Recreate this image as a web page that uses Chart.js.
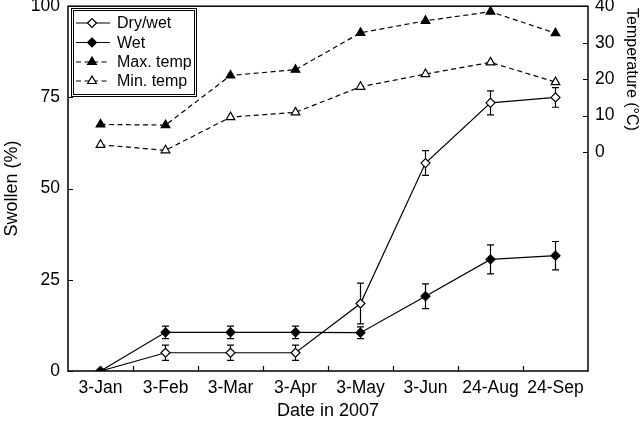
<!DOCTYPE html>
<html><head><meta charset="utf-8">
<script src="https://cdn.jsdelivr.net/npm/chart.js@4.4.1/dist/chart.umd.min.js"></script>
<style>html,body{margin:0;padding:0;background:#fff}#wrap{width:640px;height:424px}</style>
</head><body><div id="wrap"><canvas id="c" width="640" height="424"></canvas></div>
<script>
const categories = ['3-Jan','3-Feb','3-Mar','3-Apr','3-May','3-Jun','24-Aug','24-Sep'];
const dryWet    = [0, 5, 5, 5, 18.5, 57, 73.5, 75];
const dryWetErr = [0, 2.1, 2.1, 2.1, 5.6, 3.4, 3.3, 2.7];
const wet       = [0, 10.6, 10.6, 10.6, 10.5, 20.5, 30.6, 31.6];
const wetErr    = [0, 1.7, 1.7, 1.7, 1.6, 3.4, 4, 3.9];
const maxTemp   = [7.6, 7.4, 21, 22.6, 32.7, 36, 38.5, 32.6];
const minTemp   = [2, 0.5, 9.6, 10.9, 17.9, 21.4, 24.6, 19.2];
const swollenTicks = [0, 25, 50, 75, 100];
const tempTicks    = [0, 10, 20, 30, 40];

const FONT = "'Liberation Sans', Arial, Helvetica, sans-serif";
const fTick = {family: FONT, size: 17.5};
const fTitle = {family: FONT, size: 18};

const noPad = s => { s.paddingTop = 0; s.paddingBottom = 0; s.paddingLeft = 0; s.paddingRight = 0; };

const framePlugin = {
  id: 'frame',
  beforeDatasetsDraw(chart) {
    const {ctx, chartArea: a, scales} = chart;
    ctx.save();
    ctx.strokeStyle = '#000';
    ctx.lineWidth = 1.5;
    ctx.strokeRect(a.left, a.top, a.right - a.left, a.bottom - a.top);
    ctx.lineWidth = 1.2;
    ctx.beginPath();
    const xs = scales.x;
    for (let i = 1; i < categories.length; i++) {
      const px = Math.round((xs.getPixelForValue(i - 1) + xs.getPixelForValue(i)) / 2) + 0.5;
      ctx.moveTo(px, a.bottom); ctx.lineTo(px, a.bottom - 5);
    }
    scales.y.ticks.forEach(t => {
      const py = Math.round(scales.y.getPixelForValue(t.value)) + 0.5;
      ctx.moveTo(a.left, py); ctx.lineTo(a.left + 5, py);
    });
    scales.y2.ticks.forEach(t => {
      const py = Math.round(scales.y2.getPixelForValue(t.value)) + 0.5;
      ctx.moveTo(a.right, py); ctx.lineTo(a.right - 5, py);
    });
    ctx.stroke();
    // error bars
    chart.data.datasets.forEach((ds, i) => {
      if (!ds.errorBars) return;
      const meta = chart.getDatasetMeta(i);
      const ys = scales[ds.yAxisID];
      ctx.lineWidth = 1.2;
      ctx.beginPath();
      meta.data.forEach((pt, j) => {
        const e = ds.errorBars[j];
        if (!e) return;
        const v = ds.data[j];
        const y1 = ys.getPixelForValue(v + e), y2 = ys.getPixelForValue(v - e);
        ctx.moveTo(pt.x, y1); ctx.lineTo(pt.x, y2);
        ctx.moveTo(pt.x - 3.5, y1); ctx.lineTo(pt.x + 3.5, y1);
        ctx.moveTo(pt.x - 3.5, y2); ctx.lineTo(pt.x + 3.5, y2);
      });
      ctx.stroke();
    });
    // right axis title, anchored at the top of the axis
    const t = scales.y2.options.title;
    ctx.save();
    ctx.translate(631, 8);
    ctx.rotate(Math.PI / 2);
    ctx.fillStyle = '#000';
    ctx.font = "16px " + FONT;
    ctx.textAlign = 'left';
    ctx.textBaseline = 'middle';
    ctx.fillText(t.text, 0, 0);
    ctx.restore();
    ctx.restore();
  }
};

const legendPlugin = {
  id: 'boxLegend',
  afterDatasetsDraw(chart) {
    const {ctx} = chart;
    ctx.save();
    ctx.fillStyle = '#fff';
    ctx.fillRect(71, 8, 126, 89);
    ctx.strokeStyle = '#000';
    ctx.lineWidth = 1;
    ctx.strokeRect(71.5, 8.5, 125, 88);
    ctx.strokeRect(73.5, 10.5, 121, 84);
    const rows = [23, 42.5, 62, 81];
    chart.data.datasets.forEach((ds, i) => {
      const y = rows[i];
      ctx.strokeStyle = '#000';
      ctx.lineWidth = 1.2;
      ctx.setLineDash(ds.borderDash || []);
      ctx.beginPath(); ctx.moveTo(76, y); ctx.lineTo(110, y); ctx.stroke();
      ctx.setLineDash([]);
      ctx.fillStyle = ds.pointBackgroundColor;
      ctx.strokeStyle = '#000';
      ctx.lineWidth = ds.pointBorderWidth;
      Chart.helpers.drawPoint(ctx, {pointStyle: ds.pointStyle, radius: ds.pointRadius, borderWidth: ds.pointBorderWidth, rotation: 0}, 92, y);
      ctx.fillStyle = '#000';
      ctx.font = "16px " + FONT;
      ctx.textBaseline = 'middle';
      ctx.textAlign = 'left';
      ctx.fillText(ds.label, 117, y + 1);
    });
    ctx.restore();
  }
};

new Chart(document.getElementById('c'), {
  type: 'line',
  data: {
    labels: categories,
    datasets: [
      {label: 'Dry/wet', data: dryWet, errorBars: dryWetErr, yAxisID: 'y', order: 1,
       borderColor: '#000', borderWidth: 1.2, pointStyle: 'rectRot', pointRadius: 4.5,
       pointBackgroundColor: '#fff', pointBorderColor: '#000', pointBorderWidth: 1.2},
      {label: 'Wet', data: wet, errorBars: wetErr, yAxisID: 'y', order: 0,
       borderColor: '#000', borderWidth: 1.2, pointStyle: 'rectRot', pointRadius: 4.5,
       pointBackgroundColor: '#000', pointBorderColor: '#000', pointBorderWidth: 1.2},
      {label: 'Max. temp', data: maxTemp, yAxisID: 'y2', order: 2, borderDash: [5, 3.5],
       borderColor: '#000', borderWidth: 1.2, pointStyle: 'triangle', pointRadius: 5,
       pointBackgroundColor: '#000', pointBorderColor: '#000', pointBorderWidth: 1.2},
      {label: 'Min. temp', data: minTemp, yAxisID: 'y2', order: 3, borderDash: [5, 3.5],
       borderColor: '#000', borderWidth: 1.2, pointStyle: 'triangle', pointRadius: 5,
       pointBackgroundColor: '#fff', pointBorderColor: '#000', pointBorderWidth: 1.2}
    ]
  },
  options: {
    responsive: false, animation: false, devicePixelRatio: 1,
    layout: {padding: {top: 6, left: 0, right: 0, bottom: 0}},
    elements: {line: {tension: 0}},
    plugins: {legend: {display: false}, tooltip: {enabled: false}},
    scales: {
      x: {
        type: 'category', offset: true,
        grid: {display: false, drawTicks: false}, border: {display: false},
        ticks: {font: fTick, color: '#000', padding: 7, maxRotation: 0, autoSkip: false},
        title: {display: true, text: 'Date in 2007', font: fTitle, color: '#000', padding: {top: 4, bottom: 2}},
        afterFit: s => { s.height = 53; noPad(s); }
      },
      y: {
        position: 'left', min: 0, max: 100,
        afterBuildTicks: s => { s.ticks = swollenTicks.map(v => ({value: v})); },
        grid: {display: false, drawTicks: false}, border: {display: false},
        ticks: {font: fTick, color: '#000', padding: 8},
        title: {display: true, text: 'Swollen (%)', font: fTitle, color: '#000', padding: {top: 1, bottom: 0}},
        afterFit: s => { s.width = 68; noPad(s); }
      },
      y2: {
        position: 'right', min: -60, max: 40,
        afterBuildTicks: s => { s.ticks = tempTicks.map(v => ({value: v})); },
        grid: {display: false, drawTicks: false}, border: {display: false},
        ticks: {font: fTick, color: '#000', padding: 7},
        title: {display: false, text: 'Temperature (°C)', font: fTitle, color: '#000'},
        afterFit: s => { s.width = 52; noPad(s); }
      }
    }
  },
  plugins: [framePlugin, legendPlugin]
});
</script></body></html>
